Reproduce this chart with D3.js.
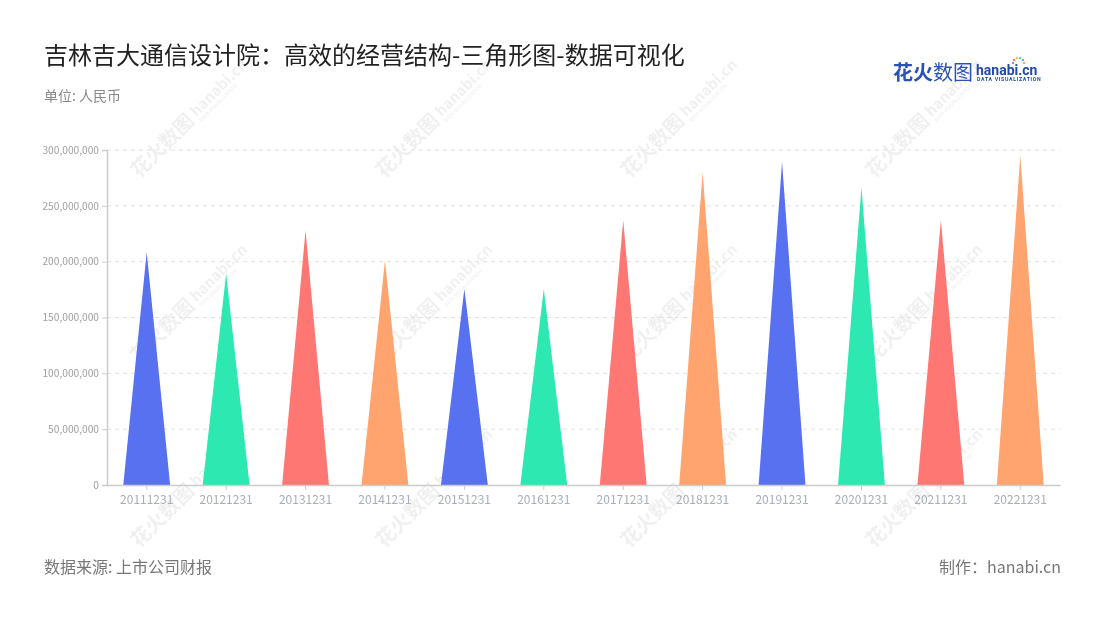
<!DOCTYPE html>
<html><head><meta charset="utf-8">
<script src="https://cdn.jsdelivr.net/npm/d3@7/dist/d3.min.js"></script>
<style>
body{margin:0;background:#fff;}
svg{display:block;font-family:"Noto Sans CJK SC","Noto Sans",sans-serif;}
</style></head>
<body><svg id="c" width="1100" height="620"></svg>
<script>
const categories = ["20111231","20121231","20131231","20141231","20151231","20161231","20171231","20181231","20191231","20201231","20211231","20221231"];
const values = [208500000,189500000,228000000,201000000,175800000,175500000,237200000,280000000,289300000,266400000,237000000,294800000];
const yTicks = [0,50000000,100000000,150000000,200000000,250000000,300000000];
const palette = ["#5771f0","#2de8b0","#ff7773","#ffa46f"];

const svg = d3.select("#c");
const m = {left:107, right:1060, top:150, bottom:485};

// watermarks
const wm = svg.append("g").attr("fill","#000").attr("opacity",0.06);
for (let r=0; r<3; r++){
  for (let c=0; c<4; c++){
    const cx = 178 + c*245, cy = 130 + r*185;
    const g = wm.append("g").attr("transform",`translate(${cx},${cy}) rotate(-45)`);
    g.append("text").attr("x",-62).attr("y",7).attr("font-size",20).attr("font-weight",700).text("花火数图");
    g.append("text").attr("x",22).attr("y",4).attr("font-size",15).attr("font-weight",700).text("hanabi.cn");
    g.append("text").attr("x",22).attr("y",11).attr("font-size",5).attr("font-weight",700).text("DATA VISUALIZATION");
  }
}

const x = d3.scaleBand().domain(categories).range([m.left, m.right]).paddingInner(0.41).paddingOuter(0.205);
const y = d3.scaleLinear().domain([0,300000000]).range([m.bottom, m.top]);

// grid
svg.append("g").selectAll("line").data(yTicks.filter(d=>d>0)).join("line")
  .attr("x1",m.left).attr("x2",m.right).attr("y1",d=>y(d)).attr("y2",d=>y(d))
  .attr("stroke","#e0e0e0").attr("stroke-dasharray","4,4");

// triangles
svg.append("g").selectAll("path").data(values).join("path")
  .attr("d",(d,i)=>{
    const x0 = x(categories[i]), bw = x.bandwidth();
    return `M${x0},${y(0)}L${x0+bw/2},${y(d)}L${x0+bw},${y(0)}Z`;
  })
  .attr("fill",(d,i)=>palette[i%4]);

// y axis
const ya = svg.append("g").attr("transform",`translate(${m.left},0)`)
  .call(d3.axisLeft(y).tickValues(yTicks).tickSize(5).tickPadding(3).tickFormat(d3.format(",")));
ya.select(".domain").attr("stroke","#ccc").attr("stroke-width",1.5);
ya.selectAll(".tick line").attr("stroke","#ccc");
ya.selectAll(".tick text").attr("fill","#a0a0a0").attr("font-size",10.2).attr("font-family","Noto Sans CJK SC");

// x axis
const xa = svg.append("g").attr("transform",`translate(0,${m.bottom})`)
  .call(d3.axisBottom(x).tickSize(5).tickPadding(5).tickSizeOuter(0));
xa.select(".domain").attr("stroke","#ccc").attr("stroke-width",1.5);
xa.selectAll(".tick line").attr("stroke","#ccc");
xa.selectAll(".tick text").attr("fill","#a8adbb").attr("font-size",12).attr("font-family","Noto Sans CJK SC");

// titles
svg.append("text").attr("x",44).attr("y",64).attr("font-size",24).attr("fill","#222").text("吉林吉大通信设计院：高效的经营结构-三角形图-数据可视化");
svg.append("text").attr("x",44).attr("y",101).attr("font-size",14).attr("fill","#888").text("单位: 人民币");
svg.append("text").attr("x",44).attr("y",573).attr("font-size",16).attr("fill","#777").text("数据来源: 上市公司财报");
svg.append("text").attr("x",1061).attr("y",573).attr("text-anchor","end").attr("font-size",16).attr("fill","#777").text("制作：hanabi.cn");

// logo
const lg = svg.append("g");
lg.append("text").attr("x",893).attr("y",80).attr("font-size",20).attr("font-weight",700).attr("fill","#2a52b5").text("花火");
lg.append("text").attr("x",933).attr("y",80).attr("font-size",20).attr("fill","#2a52b5").text("数图");
lg.append("text").attr("x",976).attr("y",75).attr("font-size",14).attr("font-weight",700).attr("fill","#1f4aa8").attr("font-family","Roboto").text("hanabi.cn");
lg.append("text").attr("x",977).attr("y",81).attr("font-size",5.2).attr("font-weight",700).attr("fill","#1f4aa8").attr("letter-spacing",0.7).attr("font-family","Roboto").text("DATA VISUALIZATION");
const dots = [["#ff5a5a",-4,-3],["#ffb400",-1,-5],["#2dd39a",2,-5],["#2a9df4",5,-3],["#a45cf0",-5,0],["#ff8a3d",6,0]];
lg.selectAll("circle").data(dots).join("circle").attr("cx",d=>1018+d[1]).attr("cy",d=>63+d[2]).attr("r",1.1).attr("fill",d=>d[0]);
</script></body></html>
